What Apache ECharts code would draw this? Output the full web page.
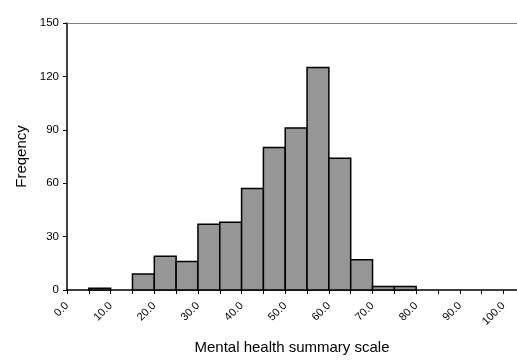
<!DOCTYPE html>
<html>
<head>
<meta charset="utf-8">
<script src="https://cdn.jsdelivr.net/npm/echarts@6/dist/echarts.min.js"></script>
<style>html,body{margin:0;padding:0;background:#fff}#c{width:517px;height:360px}</style>
</head>
<body>
<div id="c"></div>
<script>
// Histogram bins (lower edges), bin width 5
const binStarts = [5, 10, 15, 20, 25, 30, 35, 40, 45, 50, 55, 60, 65, 70, 75];
const counts    = [1, 0, 9, 19, 16, 37, 38, 57, 80, 91, 125, 74, 17, 2, 2];
const binWidth = 5;
const xTickValues  = [0,5,10,15,20,25,30,35,40,45,50,55,60,65,70,75,80,85,90,95,100];
const xLabelValues = [0,10,20,30,40,50,60,70,80,90,100];
const yTicks = [0, 30, 60, 90, 120, 150];
const xTitle = 'Mental health summary scale';
const yTitle = 'Freqency';

const data = binStarts.map((s, i) => [s, s + binWidth, counts[i]]).filter(d => d[2] > 0);

const chart = echarts.init(document.getElementById('c'), null, {renderer: 'canvas'});
const font = 'Liberation Sans, Arial, sans-serif';
chart.setOption({
  animation: false,
  backgroundColor: '#fff',
  grid: {left: 67, right: 0, top: 23, bottom: 69, containLabel: false},
  xAxis: [{
    type: 'value', min: 0, max: 103.1, position: 'bottom',
    name: xTitle, nameLocation: 'middle', nameGap: 50,
    nameTextStyle: {fontFamily: font, fontSize: 15, color: '#000'},
    axisLine: {show: true, onZero: false, lineStyle: {color: '#000', width: 1.5}},
    axisTick: {show: true, length: 4, customValues: xTickValues, lineStyle: {color: '#000', width: 1}},
    axisLabel: {customValues: xLabelValues, rotate: 45, margin: 14, fontFamily: font, fontSize: 11, color: '#000',
      formatter: v => Number(v).toFixed(1)},
    splitLine: {show: false}
  }, {
    type: 'value', min: 0, max: 103.1, position: 'top',
    axisLine: {show: true, onZero: false, lineStyle: {color: '#808080', width: 1.2}},
    axisTick: {show: false}, axisLabel: {show: false}, splitLine: {show: false}
  }],
  yAxis: {
    type: 'value', min: 0, max: 150, interval: 30,
    name: yTitle, nameLocation: 'middle', nameGap: 37, nameRotate: 90,
    nameTextStyle: {fontFamily: font, fontSize: 15, color: '#000'},
    axisLine: {show: true, lineStyle: {color: '#000', width: 1.5}},
    axisTick: {show: true, length: 4, customValues: yTicks, lineStyle: {color: '#000', width: 1}},
    axisLabel: {customValues: yTicks, margin: 8, fontFamily: font, fontSize: 11.5, color: '#000'},
    splitLine: {show: false}
  },
  series: [{
    type: 'custom',
    xAxisIndex: 0,
    data: data,
    encode: {x: [0, 1], y: 2},
    renderItem: function (params, api) {
      const p0 = api.coord([api.value(0), api.value(2)]);
      const p1 = api.coord([api.value(1), 0]);
      return {
        type: 'rect',
        shape: {x: p0[0], y: p0[1], width: p1[0] - p0[0], height: p1[1] - p0[1]},
        style: {fill: '#969696', stroke: '#000', lineWidth: 1.5}
      };
    }
  }]
});
</script>
</body>
</html>
